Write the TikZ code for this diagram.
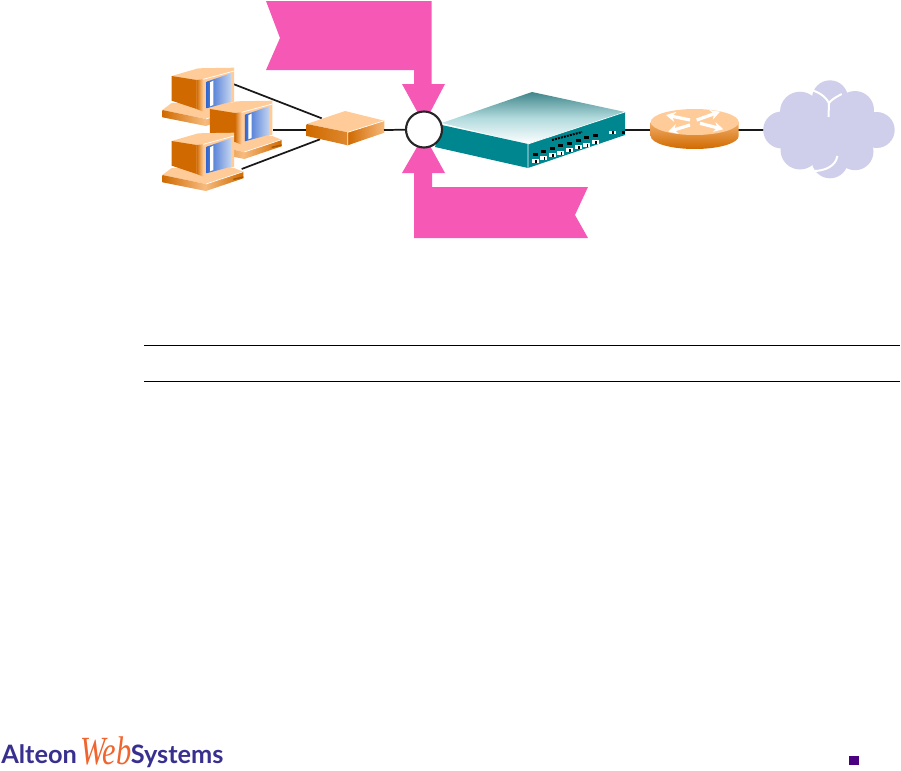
\documentclass[tikz,border=0pt]{standalone}
\usepackage{fontspec}
\setmainfont{Lato}
\newfontfamily\webfont[FakeStretch=.76]{Liberation Serif}
\usetikzlibrary{positioning,arrows.meta}
\definecolor{banner}{HTML}{F559B5}
\definecolor{peach}{HTML}{FFCC99}
\definecolor{rust}{HTML}{D06A00}
\definecolor{teal}{HTML}{00868F}
\definecolor{mist}{HTML}{CFCFEB}
\definecolor{logoblue}{HTML}{38308F}
\definecolor{logored}{HTML}{F0642D}
\definecolor{bullet}{HTML}{4B0082}
\definecolor{screena}{HTML}{3468D0}
\definecolor{screenb}{HTML}{C4D4F0}

\tikzset{
  pccase/.pic={
    % base
    \fill[peach] (0,0) -- (9.3,-7) -- (71.7,-7) -- (81,-3.3) -- (43.7,9) -- cycle;
    \shade[left color=rust, right color=peach!85!rust] (0,0) -- (43.7,9) -- (43.7,16) -- (0,7.3) -- cycle;
    \shade[left color=peach!80!rust, right color=rust] (43.7,9) -- (81,-3.3) -- (81,3.3) -- (43.7,16) -- cycle;
    \draw[white, line width=.5pt] (43.7,9) -- (81,-3.3);
    \fill[rust!80!black] (71,3.6) -- (81,1.4) -- (81,2.8) -- (71,5) -- cycle;
    % monitor
    \fill[peach] (9.3,-34) -- (36,-41.7) -- (71.7,-42.3) -- (71.7,-8.3) -- (41,1.7) -- (34.3,-1) -- cycle;
    \fill[rust] (9.3,-34) -- (34.3,-30) -- (34.3,-1) -- (9.3,-9.3) -- cycle;
    \shade[left color=rust, right color=peach] (34.3,-30) -- (41,-30.7) -- (41,1.7) -- (34.3,-1) -- cycle;
    \draw[white, line width=.5pt] (41,-30.7) -- (71.7,-39);
    \shade[shading angle=-45, left color=screena, right color=screenb]
      (44.3,-28.3) -- (68.7,-36.7) -- (68.7,-8.3) -- (44.3,-1.7) -- cycle;
    \fill[white] (47.7,-27.7) -- (51,-29.3) -- (51,-5) -- (47.7,-3.7) -- cycle;
  }
}

\begin{document}
\begin{tikzpicture}[
    x=.75pt, y=-.75pt,
    wire/.style={draw=black!90, line width=1.3pt},
    flag/.style={fill=banner},
    pad/.style={fill=white, draw=black!85, line width=1.6pt, circle, inner sep=0pt, minimum size=27pt},
    rift/.style={draw=white, line width=1.5pt},
    turn/.style={draw=white, line width=2.4pt, -{Stealth[length=7pt,width=7.5pt]}},
    brand/.style={anchor=base west, inner sep=0pt, font=\fontsize{19}{22}\selectfont\bfseries, text=logoblue}
  ]
  \useasboundingbox (0,0) rectangle (901,771);

  \coordinate (pca) at (234,84.3);
  \coordinate (pcb) at (272.7,130);
  \coordinate (pcc) at (241.7,169);
  \coordinate (huba) at (321.7,118.3);
  \coordinate (hubb) at (306.7,130);
  \coordinate (hubc) at (320,139.3);
  \coordinate (hubd) at (384,130);
  \coordinate (swr) at (625,130);
  \coordinate (rtl) at (651,130);
  \coordinate (rtr) at (738,130);
  \coordinate (cll) at (765,130);

  \foreach \x/\y in {pca/huba, pcb/hubb, pcc/hubc, swr/rtl, rtr/cll} {\draw[wire] (\x) -- (\y);}

  % computers
  \pic at (162.3,110) {pccase};
  \pic at (200.6,143) {pccase};
  \pic at (162.3,175) {pccase};

  % hub
  \fill[peach] (306.7,124) -- (345,111) -- (384.3,120.7) -- (347.7,132.3) -- cycle;
  \shade[left color=rust, right color=rust!70!peach] (306.7,124) -- (347.7,132.3) -- (347.7,145.3) -- (306.7,136) -- cycle;
  \shade[left color=rust, right color=peach!80!rust] (347.7,132.3) -- (384.3,120.7) -- (384.3,132.7) -- (347.7,145.3) -- cycle;
  \draw[white, line width=.5pt] (347.7,145.3) -- (347.7,132.3) -- (384.3,120.7);

  % switch
  \shade[shading angle=-35, top color=teal!70!black!75, bottom color=white, middle color=teal!30!white] (441.7,123) -- (532,92) -- (625,112) -- (528,144) -- cycle;
  \fill[teal] (441.7,125) -- (528,144) -- (528,168) -- (435,147) -- cycle;
  \fill[teal] (528,144) -- (625,112) -- (625,135) -- (528,168) -- cycle;
  \draw[white, line width=.5pt] (528,168) -- (528,144) -- (625,112);
  \foreach \i in {0,...,7} {
    \fill[black] (535+8.6*\i-2.5,154-2.7*\i-1.5) rectangle ++(5,3);
    \fill[white] (535+8.6*\i-3.5,160.7-2.7*\i-2) rectangle ++(7,4);
    \fill[black] (535+8.6*\i,160.7-2.7*\i-1) rectangle ++(1.5,3);
  }
  \draw[black, line width=1.5pt, dash pattern=on 1.5pt off .8pt] (552,140) -- (582,132);
  \fill[white] (609,131) rectangle ++(7,3);
  \fill[black] (612,131) rectangle ++(2,3);
  \fill[black] (622,131) rectangle ++(2.5,3);

  % router
  \shade[top color=peach!70!rust, bottom color=rust] (650.7,122) -- (650.7,136) arc[x radius=44, y radius=13, start angle=180, end angle=0] -- (738.7,122) -- cycle;
  \fill[peach] (694.7,122) ellipse[x radius=44, y radius=13];
  \draw[turn] (690,120) -- (666,115);
  \draw[turn] (696.7,120) -- (720,111.7);
  \draw[turn] (700,123.3) -- (723.3,129.3);
  \draw[turn] (690,125) -- (668.3,131.7);

  % cloud
  \foreach \x/\y/\r in {830/98.3/18, 800/111.7/20, 855/110/19, 781.7/130/18.5, 876.7/130/18, 800/150/19.5, 855/151.7/18.5, 830/160/18.3, 829/129/35}
    {\fill[mist] (\x,\y) circle[radius=\r];}
  \draw[rift] (811,90) .. controls (819,92) and (826,97) .. (829,103);
  \draw[rift] (841.7,94) .. controls (836,97) and (831,100) .. (829,103) -- (828.5,117);
  \draw[rift] (837.3,156) .. controls (836,166) and (825,171) .. (813.3,171);

  % banners
  \fill[flag] (266,1) -- (431.5,1) -- (431.5,84) -- (445,84) -- (424,124) -- (402,84) -- (414,84) -- (414,70) -- (266,70) -- (280,38) -- cycle;
  \fill[flag] (414,238) -- (414,173) -- (402,173) -- (424,135) -- (445,173) -- (432,173) -- (432,187) -- (588,187) -- (575,215) -- (588,238) -- cycle;

  \node[pad] (tap) at (424,129.5) {};
  \draw[wire] (hubd) -- (tap);

  % rules
  \coordinate (rula) at (144,345);
  \coordinate (rulb) at (900,345);
  \coordinate (rulc) at (144,381);
  \coordinate (ruld) at (900,381);
  \draw[black, line width=.6pt] (rula) -- (rulb);
  \draw[black, line width=.6pt] (rulc) -- (ruld);

  % logo
  \node[brand] (alteon) at (1,763) {Alteon};
  \node[anchor=base west, inner sep=0pt, text=logored, font=\fontsize{30}{33}\selectfont\webfont\itshape] (web) at (80,764) {Web};
  \node[brand] (systems) at (130.5,763) {Systems};
  \fill[bullet] (849,755.7) rectangle (859,765);
\end{tikzpicture}
\end{document}
